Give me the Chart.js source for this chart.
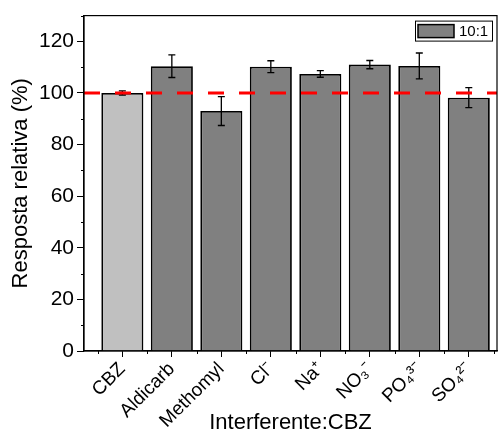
<!DOCTYPE html>
<html>
<head>
<meta charset="utf-8">
<script src="https://cdn.jsdelivr.net/npm/chart.js@4.4.0/dist/chart.umd.min.js"></script>
<style>
  html, body { margin: 0; padding: 0; background: #fff; }
  #wrap { width: 499px; height: 434px; }
</style>
</head>
<body>
<div id="wrap"><canvas id="chart" width="499" height="434"></canvas></div>
<script>
// data
const categories = ["CBZ", "Aldicarb", "Methomyl", "Cl⁻", "Na⁺", "NO₃⁻", "PO₄³⁻", "SO₄²⁻"];
const responses = [100.0, 110.4, 93.0, 110.2, 107.4, 111.0, 110.5, 98.2];
const errors = [0.8, 4.4, 5.6, 2.3, 1.3, 1.6, 5.0, 3.9];
const barColors = ["#c0c0c0", "#808080", "#808080", "#808080", "#808080", "#808080", "#808080", "#808080"];
const yTicks = [0, 20, 40, 60, 80, 100, 120];
const yMinorTicks = [10, 30, 50, 70, 90, 110, 130];
const referenceLevel = 100;
const seriesLabel = "10:1";

const FONT = "'Liberation Sans', Arial, sans-serif";

// error bars, reference line, frame, minor ticks, legend
const extras = {
  id: "extras",
  afterDatasetsDraw(chart) {
    const ctx = chart.ctx;
    const area = chart.chartArea;
    const x = chart.scales.x, y = chart.scales.y;
    const bars = chart.getDatasetMeta(0).data;

    ctx.save();
    // error bars
    ctx.strokeStyle = "#000";
    ctx.lineWidth = 1.3;
    bars.forEach((bar, i) => {
      const top = y.getPixelForValue(responses[i] + errors[i]);
      const bot = y.getPixelForValue(responses[i] - errors[i]);
      ctx.beginPath();
      ctx.moveTo(bar.x, top); ctx.lineTo(bar.x, bot);
      ctx.moveTo(bar.x - 3.5, top); ctx.lineTo(bar.x + 3.5, top);
      ctx.moveTo(bar.x - 3.5, bot); ctx.lineTo(bar.x + 3.5, bot);
      ctx.stroke();
    });

    // dashed reference line
    const ry = y.getPixelForValue(referenceLevel);
    ctx.strokeStyle = "#ff0000";
    ctx.lineWidth = 3;
    ctx.setLineDash([16, 15]);
    ctx.beginPath();
    ctx.moveTo(area.left, ry); ctx.lineTo(area.right, ry);
    ctx.stroke();
    ctx.setLineDash([]);

    // frame
    ctx.strokeStyle = "#000";
    ctx.lineWidth = 1.2;
    ctx.strokeRect(area.left, area.top, area.right - area.left, area.bottom - area.top);

    // minor ticks
    ctx.lineWidth = 1;
    yMinorTicks.forEach(v => {
      const py = Math.round(y.getPixelForValue(v)) + 0.5;
      ctx.beginPath(); ctx.moveTo(area.left - 3, py); ctx.lineTo(area.left, py); ctx.stroke();
    });
    categories.forEach((_, i) => {
      [i - 0.5, i + 0.5].forEach(v => {
        const px = Math.round(x.getPixelForValue(v)) + 0.5;
        ctx.beginPath(); ctx.moveTo(px, area.bottom); ctx.lineTo(px, area.bottom + 3); ctx.stroke();
      });
    });

    // legend box
    const lx = area.right - 82, ly = area.top + 5;
    ctx.fillStyle = "#fff";
    ctx.fillRect(lx, ly, 77, 20);
    ctx.strokeStyle = "#000";
    ctx.lineWidth = 1;
    ctx.strokeRect(lx + 0.5, ly + 0.5, 77, 20);
    ctx.fillStyle = "#808080";
    ctx.fillRect(lx + 3, ly + 4, 36, 13);
    ctx.lineWidth = 1.5;
    ctx.strokeRect(lx + 3, ly + 4, 36, 13);
    ctx.fillStyle = "#000";
    ctx.font = "15px " + FONT;
    ctx.textBaseline = "middle";
    ctx.fillText(seriesLabel, lx + 44, ly + 11);
    ctx.restore();
  }
};

new Chart(document.getElementById("chart"), {
  type: "bar",
  data: {
    datasets: [{
      label: seriesLabel,
      data: responses.map((v, i) => ({ x: i, y: v })),
      backgroundColor: barColors,
      borderColor: "#000",
      borderWidth: 1.8,
      barPercentage: 0.85,
      categoryPercentage: 1.0
    }]
  },
  options: {
    responsive: false,
    animation: false,
    layout: { padding: { left: 0, top: 13, right: 2, bottom: 0 } },
    plugins: { legend: { display: false }, tooltip: { enabled: false } },
    scales: {
      x: {
        type: "linear",
        offset: false,
        min: -0.775,
        max: 7.57,
        afterBuildTicks: s => { s.ticks = categories.map((_, i) => ({ value: i })); },
        afterFit: s => { s.height = 83; },
        grid: { display: true, offset: false, drawOnChartArea: false, tickLength: 6, color: "#000" },
        border: { color: "#000", width: 1.2 },
        ticks: {
          autoSkip: false,
          minRotation: 45,
          maxRotation: 45,
          padding: 1,
          color: "#000",
          font: { family: FONT, size: 19 },
          callback: v => categories[v] ?? ""
        },
        title: {
          display: true,
          text: "Interferente:CBZ",
          color: "#000",
          font: { family: FONT, size: 22, lineHeight: 1 },
          padding: { top: 0, bottom: 0 }
        }
      },
      y: {
        min: 0,
        max: 130,
        afterBuildTicks: s => { s.ticks = yTicks.map(v => ({ value: v })); },
        afterFit: s => { s.width = 84; },
        grid: { display: true, drawOnChartArea: false, tickLength: 7, color: "#000" },
        border: { color: "#000", width: 1.2 },
        ticks: {
          padding: 3,
          color: "#000",
          font: { family: FONT, size: 21 }
        },
        title: {
          display: true,
          text: "Resposta relativa (%)",
          color: "#000",
          font: { family: FONT, size: 22, lineHeight: 1 },
          padding: { top: 10, bottom: 0 }
        }
      }
    }
  },
  plugins: [extras]
});
</script>
</body>
</html>
